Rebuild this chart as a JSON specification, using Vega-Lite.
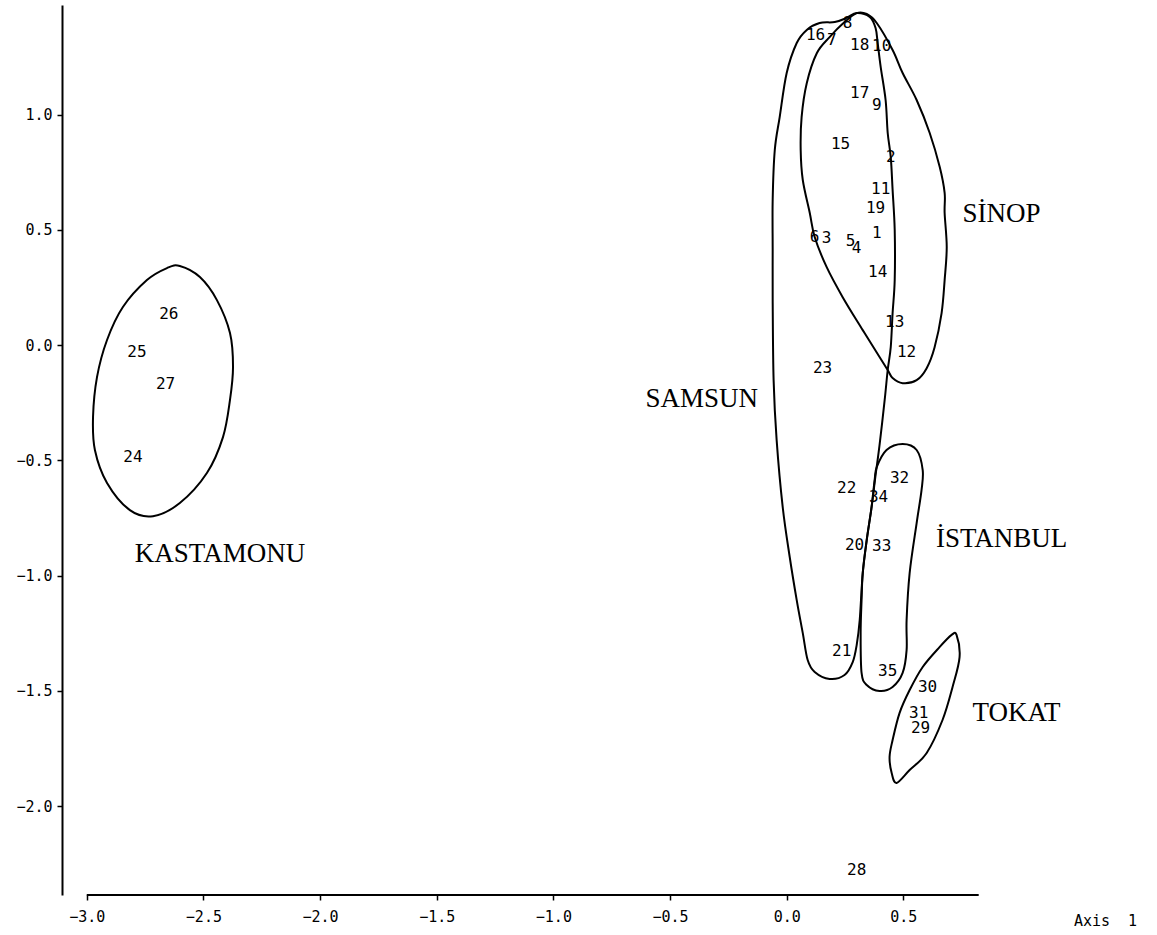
{
  "$schema": "https://vega.github.io/schema/vega-lite/v6.json",
  "width": 923,
  "height": 890,
  "autosize": {"type": "none"},
  "padding": {"left": 62, "top": 5, "right": 172, "bottom": 40},
  "background": "white",
  "config": {"view": {"stroke": null}},
  "datasets": {
    "outlines": [
      {"g": "KASTAMONU", "i": 1, "x": -2.601, "y": 0.343},
      {"g": "KASTAMONU", "i": 2, "x": -2.515, "y": 0.295},
      {"g": "KASTAMONU", "i": 3, "x": -2.442, "y": 0.195},
      {"g": "KASTAMONU", "i": 4, "x": -2.386, "y": 0.052},
      {"g": "KASTAMONU", "i": 5, "x": -2.373, "y": -0.095},
      {"g": "KASTAMONU", "i": 6, "x": -2.386, "y": -0.238},
      {"g": "KASTAMONU", "i": 7, "x": -2.416, "y": -0.399},
      {"g": "KASTAMONU", "i": 8, "x": -2.485, "y": -0.555},
      {"g": "KASTAMONU", "i": 9, "x": -2.601, "y": -0.685},
      {"g": "KASTAMONU", "i": 10, "x": -2.716, "y": -0.742},
      {"g": "KASTAMONU", "i": 11, "x": -2.815, "y": -0.716},
      {"g": "KASTAMONU", "i": 12, "x": -2.913, "y": -0.598},
      {"g": "KASTAMONU", "i": 13, "x": -2.965, "y": -0.455},
      {"g": "KASTAMONU", "i": 14, "x": -2.973, "y": -0.312},
      {"g": "KASTAMONU", "i": 15, "x": -2.956, "y": -0.139},
      {"g": "KASTAMONU", "i": 16, "x": -2.913, "y": 0.022},
      {"g": "KASTAMONU", "i": 17, "x": -2.845, "y": 0.165},
      {"g": "KASTAMONU", "i": 18, "x": -2.742, "y": 0.282},
      {"g": "KASTAMONU", "i": 19, "x": -2.656, "y": 0.334},

      {"g": "SAMSUN", "i": 1, "x": -0.060, "y": 0.630},
      {"g": "SAMSUN", "i": 2, "x": -0.051, "y": 0.846},
      {"g": "SAMSUN", "i": 3, "x": -0.030, "y": 0.989},
      {"g": "SAMSUN", "i": 4, "x": 0.000, "y": 1.180},
      {"g": "SAMSUN", "i": 5, "x": 0.043, "y": 1.310},
      {"g": "SAMSUN", "i": 6, "x": 0.086, "y": 1.367},
      {"g": "SAMSUN", "i": 7, "x": 0.141, "y": 1.397},
      {"g": "SAMSUN", "i": 8, "x": 0.206, "y": 1.401},
      {"g": "SAMSUN", "i": 9, "x": 0.257, "y": 1.419},
      {"g": "SAMSUN", "i": 10, "x": 0.300, "y": 1.440},
      {"g": "SAMSUN", "i": 11, "x": 0.356, "y": 1.423},
      {"g": "SAMSUN", "i": 12, "x": 0.381, "y": 1.375},
      {"g": "SAMSUN", "i": 13, "x": 0.390, "y": 1.310},
      {"g": "SAMSUN", "i": 14, "x": 0.403, "y": 1.206},
      {"g": "SAMSUN", "i": 15, "x": 0.424, "y": 1.063},
      {"g": "SAMSUN", "i": 16, "x": 0.433, "y": 0.920},
      {"g": "SAMSUN", "i": 17, "x": 0.446, "y": 0.816},
      {"g": "SAMSUN", "i": 18, "x": 0.454, "y": 0.673},
      {"g": "SAMSUN", "i": 19, "x": 0.463, "y": 0.499},
      {"g": "SAMSUN", "i": 20, "x": 0.463, "y": 0.282},
      {"g": "SAMSUN", "i": 21, "x": 0.454, "y": 0.139},
      {"g": "SAMSUN", "i": 22, "x": 0.446, "y": -0.009},
      {"g": "SAMSUN", "i": 23, "x": 0.433, "y": -0.108},
      {"g": "SAMSUN", "i": 24, "x": 0.420, "y": -0.238},
      {"g": "SAMSUN", "i": 25, "x": 0.398, "y": -0.434},
      {"g": "SAMSUN", "i": 26, "x": 0.381, "y": -0.564},
      {"g": "SAMSUN", "i": 27, "x": 0.364, "y": -0.702},
      {"g": "SAMSUN", "i": 28, "x": 0.343, "y": -0.846},
      {"g": "SAMSUN", "i": 29, "x": 0.326, "y": -0.989},
      {"g": "SAMSUN", "i": 30, "x": 0.313, "y": -1.193},
      {"g": "SAMSUN", "i": 31, "x": 0.300, "y": -1.301},
      {"g": "SAMSUN", "i": 32, "x": 0.283, "y": -1.375},
      {"g": "SAMSUN", "i": 33, "x": 0.248, "y": -1.431},
      {"g": "SAMSUN", "i": 34, "x": 0.184, "y": -1.448},
      {"g": "SAMSUN", "i": 35, "x": 0.120, "y": -1.418},
      {"g": "SAMSUN", "i": 36, "x": 0.090, "y": -1.366},
      {"g": "SAMSUN", "i": 37, "x": 0.069, "y": -1.249},
      {"g": "SAMSUN", "i": 38, "x": 0.043, "y": -1.106},
      {"g": "SAMSUN", "i": 39, "x": 0.013, "y": -0.919},
      {"g": "SAMSUN", "i": 40, "x": -0.017, "y": -0.703},
      {"g": "SAMSUN", "i": 41, "x": -0.043, "y": -0.412},
      {"g": "SAMSUN", "i": 42, "x": -0.056, "y": -0.152},
      {"g": "SAMSUN", "i": 43, "x": -0.060, "y": 0.195},
      {"g": "SAMSUN", "i": 44, "x": -0.060, "y": 0.412},

      {"g": "SINOP", "i": 1, "x": 0.300, "y": 1.440},
      {"g": "SINOP", "i": 2, "x": 0.343, "y": 1.436},
      {"g": "SINOP", "i": 3, "x": 0.386, "y": 1.397},
      {"g": "SINOP", "i": 4, "x": 0.454, "y": 1.280},
      {"g": "SINOP", "i": 5, "x": 0.497, "y": 1.180},
      {"g": "SINOP", "i": 6, "x": 0.557, "y": 1.063},
      {"g": "SINOP", "i": 7, "x": 0.613, "y": 0.920},
      {"g": "SINOP", "i": 8, "x": 0.656, "y": 0.772},
      {"g": "SINOP", "i": 9, "x": 0.677, "y": 0.660},
      {"g": "SINOP", "i": 10, "x": 0.677, "y": 0.573},
      {"g": "SINOP", "i": 11, "x": 0.686, "y": 0.425},
      {"g": "SINOP", "i": 12, "x": 0.677, "y": 0.282},
      {"g": "SINOP", "i": 13, "x": 0.664, "y": 0.139},
      {"g": "SINOP", "i": 14, "x": 0.634, "y": -0.009},
      {"g": "SINOP", "i": 15, "x": 0.600, "y": -0.100},
      {"g": "SINOP", "i": 16, "x": 0.557, "y": -0.152},
      {"g": "SINOP", "i": 17, "x": 0.497, "y": -0.165},
      {"g": "SINOP", "i": 18, "x": 0.454, "y": -0.143},
      {"g": "SINOP", "i": 19, "x": 0.433, "y": -0.108},
      {"g": "SINOP", "i": 20, "x": 0.398, "y": -0.052},
      {"g": "SINOP", "i": 21, "x": 0.326, "y": 0.065},
      {"g": "SINOP", "i": 22, "x": 0.240, "y": 0.208},
      {"g": "SINOP", "i": 23, "x": 0.171, "y": 0.339},
      {"g": "SINOP", "i": 24, "x": 0.120, "y": 0.469},
      {"g": "SINOP", "i": 25, "x": 0.099, "y": 0.573},
      {"g": "SINOP", "i": 26, "x": 0.069, "y": 0.716},
      {"g": "SINOP", "i": 27, "x": 0.060, "y": 0.846},
      {"g": "SINOP", "i": 28, "x": 0.064, "y": 0.989},
      {"g": "SINOP", "i": 29, "x": 0.086, "y": 1.136},
      {"g": "SINOP", "i": 30, "x": 0.129, "y": 1.266},
      {"g": "SINOP", "i": 31, "x": 0.184, "y": 1.336},
      {"g": "SINOP", "i": 32, "x": 0.248, "y": 1.401},

      {"g": "ISTANBUL", "i": 1, "x": 0.386, "y": -0.529},
      {"g": "ISTANBUL", "i": 2, "x": 0.428, "y": -0.455},
      {"g": "ISTANBUL", "i": 3, "x": 0.497, "y": -0.429},
      {"g": "ISTANBUL", "i": 4, "x": 0.557, "y": -0.455},
      {"g": "ISTANBUL", "i": 5, "x": 0.583, "y": -0.542},
      {"g": "ISTANBUL", "i": 6, "x": 0.578, "y": -0.629},
      {"g": "ISTANBUL", "i": 7, "x": 0.557, "y": -0.772},
      {"g": "ISTANBUL", "i": 8, "x": 0.527, "y": -0.989},
      {"g": "ISTANBUL", "i": 9, "x": 0.514, "y": -1.193},
      {"g": "ISTANBUL", "i": 10, "x": 0.514, "y": -1.323},
      {"g": "ISTANBUL", "i": 11, "x": 0.497, "y": -1.422},
      {"g": "ISTANBUL", "i": 12, "x": 0.454, "y": -1.483},
      {"g": "ISTANBUL", "i": 13, "x": 0.398, "y": -1.500},
      {"g": "ISTANBUL", "i": 14, "x": 0.343, "y": -1.474},
      {"g": "ISTANBUL", "i": 15, "x": 0.321, "y": -1.422},
      {"g": "ISTANBUL", "i": 16, "x": 0.317, "y": -1.249},
      {"g": "ISTANBUL", "i": 17, "x": 0.321, "y": -1.106},
      {"g": "ISTANBUL", "i": 18, "x": 0.326, "y": -0.989},
      {"g": "ISTANBUL", "i": 19, "x": 0.343, "y": -0.846},
      {"g": "ISTANBUL", "i": 20, "x": 0.364, "y": -0.702},
      {"g": "ISTANBUL", "i": 21, "x": 0.377, "y": -0.585},

      {"g": "TOKAT", "i": 1, "x": 0.728, "y": -1.257},
      {"g": "TOKAT", "i": 2, "x": 0.741, "y": -1.353},
      {"g": "TOKAT", "i": 3, "x": 0.711, "y": -1.483},
      {"g": "TOKAT", "i": 4, "x": 0.668, "y": -1.626},
      {"g": "TOKAT", "i": 5, "x": 0.600, "y": -1.769},
      {"g": "TOKAT", "i": 6, "x": 0.527, "y": -1.843},
      {"g": "TOKAT", "i": 7, "x": 0.471, "y": -1.899},
      {"g": "TOKAT", "i": 8, "x": 0.450, "y": -1.856},
      {"g": "TOKAT", "i": 9, "x": 0.441, "y": -1.786},
      {"g": "TOKAT", "i": 10, "x": 0.454, "y": -1.713},
      {"g": "TOKAT", "i": 11, "x": 0.484, "y": -1.595},
      {"g": "TOKAT", "i": 12, "x": 0.527, "y": -1.496},
      {"g": "TOKAT", "i": 13, "x": 0.583, "y": -1.396},
      {"g": "TOKAT", "i": 14, "x": 0.656, "y": -1.309},
      {"g": "TOKAT", "i": 15, "x": 0.707, "y": -1.257}
    ],
    "points": [
      {"id": "1", "x": 0.386, "y": 0.486},
      {"id": "2", "x": 0.446, "y": 0.816},
      {"id": "3", "x": 0.171, "y": 0.464},
      {"id": "4", "x": 0.300, "y": 0.421},
      {"id": "5", "x": 0.274, "y": 0.451},
      {"id": "6", "x": 0.120, "y": 0.469},
      {"id": "7", "x": 0.193, "y": 1.323},
      {"id": "8", "x": 0.261, "y": 1.397},
      {"id": "9", "x": 0.386, "y": 1.041},
      {"id": "10", "x": 0.407, "y": 1.297},
      {"id": "11", "x": 0.403, "y": 0.677},
      {"id": "12", "x": 0.514, "y": -0.030},
      {"id": "13", "x": 0.463, "y": 0.100},
      {"id": "14", "x": 0.390, "y": 0.317},
      {"id": "15", "x": 0.231, "y": 0.872},
      {"id": "16", "x": 0.124, "y": 1.345},
      {"id": "17", "x": 0.313, "y": 1.093},
      {"id": "18", "x": 0.313, "y": 1.301},
      {"id": "19", "x": 0.381, "y": 0.595},
      {"id": "20", "x": 0.291, "y": -0.867},
      {"id": "21", "x": 0.236, "y": -1.326},
      {"id": "22", "x": 0.257, "y": -0.620},
      {"id": "23", "x": 0.154, "y": -0.100},
      {"id": "24", "x": -2.802, "y": -0.485},
      {"id": "25", "x": -2.785, "y": -0.030},
      {"id": "26", "x": -2.648, "y": 0.135},
      {"id": "27", "x": -2.662, "y": -0.169},
      {"id": "28", "x": 0.300, "y": -2.276},
      {"id": "29", "x": 0.574, "y": -1.660},
      {"id": "30", "x": 0.604, "y": -1.482},
      {"id": "31", "x": 0.566, "y": -1.594},
      {"id": "32", "x": 0.484, "y": -0.576},
      {"id": "33", "x": 0.407, "y": -0.871},
      {"id": "34", "x": 0.394, "y": -0.659},
      {"id": "35", "x": 0.433, "y": -1.413}
    ],
    "groups": [
      {"name": "KASTAMONU", "x": -2.429, "y": -0.941},
      {"name": "SAMSUN", "x": -0.364, "y": -0.268},
      {"name": "SİNOP", "x": 0.921, "y": 0.534},
      {"name": "İSTANBUL", "x": 0.921, "y": -0.875},
      {"name": "TOKAT", "x": 0.985, "y": -1.630}
    ],
    "axisline": [
      {"x": -3.0, "x2": 0.823, "y": -2.385, "y2": -2.385}
    ]
  },
  "layer": [
    {
      "data": {"name": "axisline"},
      "mark": {"type": "rule", "color": "black", "strokeWidth": 2},
      "encoding": {
        "x": {"field": "x", "type": "quantitative", "scale": {"domain": [-3.106, 0.85], "nice": false, "zero": false},
          "axis": {"values": [-3.0, -2.5, -2.0, -1.5, -1.0, -0.5, 0.0, 0.5], "format": ".1f", "domain": false, "grid": false,
            "ticks": true, "tickSize": 5, "tickColor": "black", "tickWidth": 1.5,
            "labelFont": "DejaVu Sans Mono", "labelFontSize": 15, "labelColor": "black", "labelPadding": 9, "labelFlush": false,
            "title": "Axis\u00a0 1", "titleFont": "DejaVu Sans Mono", "titleFontSize": 15, "titleFontWeight": "normal", "titleColor": "black",
            "titleX": 1043, "titleY": 25, "titleAlign": "center", "titleBaseline": "middle", "titleAnchor": null}},
        "x2": {"field": "x2"},
        "y": {"field": "y", "type": "quantitative", "scale": {"domain": [-2.385, 1.475], "nice": false, "zero": false},
          "axis": {"values": [-2.0, -1.5, -1.0, -0.5, 0.0, 0.5, 1.0], "format": ".1f", "domain": true, "domainColor": "black", "domainWidth": 2,
            "grid": false, "ticks": true, "tickSize": 5, "tickColor": "black", "tickWidth": 1.5,
            "labelFont": "DejaVu Sans Mono", "labelFontSize": 15, "labelColor": "black", "labelPadding": 5, "labelFlush": false,
            "title": null}},
        "y2": {"field": "y2"}
      }
    },
    {
      "data": {"name": "outlines"},
      "mark": {"type": "line", "interpolate": "cardinal-closed", "color": "black", "strokeWidth": 2},
      "encoding": {
        "x": {"field": "x", "type": "quantitative"},
        "y": {"field": "y", "type": "quantitative"},
        "detail": {"field": "g"},
        "order": {"field": "i", "type": "quantitative"}
      }
    },
    {
      "data": {"name": "points"},
      "mark": {"type": "text", "font": "DejaVu Sans Mono", "fontSize": 16, "color": "black", "align": "center", "baseline": "middle"},
      "encoding": {
        "x": {"field": "x", "type": "quantitative"},
        "y": {"field": "y", "type": "quantitative"},
        "text": {"field": "id"}
      }
    },
    {
      "data": {"name": "groups"},
      "mark": {"type": "text", "font": "Liberation Serif", "fontSize": 27, "color": "black", "align": "center", "baseline": "alphabetic"},
      "encoding": {
        "x": {"field": "x", "type": "quantitative"},
        "y": {"field": "y", "type": "quantitative"},
        "text": {"field": "name"}
      }
    }
  ]
}
